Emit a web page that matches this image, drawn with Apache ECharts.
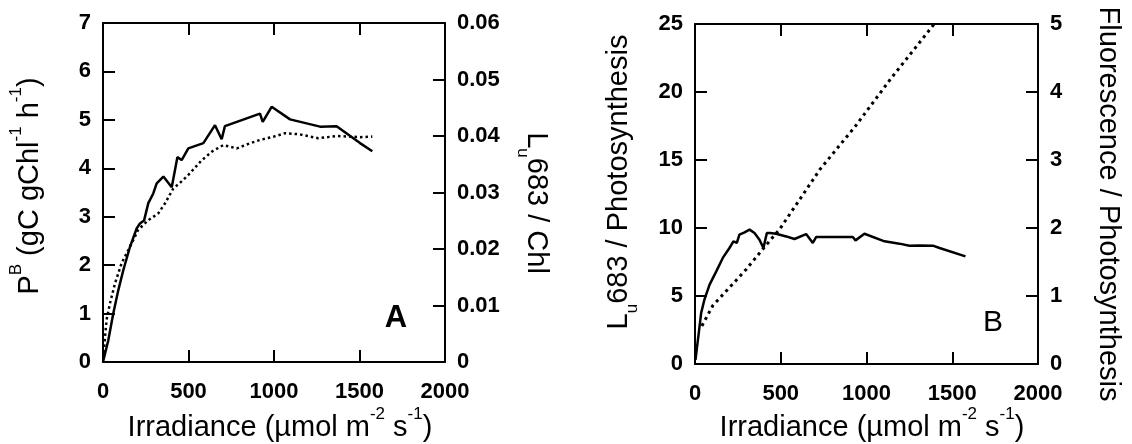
<!DOCTYPE html>
<html>
<head>
<meta charset="utf-8">
<script src="https://cdn.jsdelivr.net/npm/echarts@6/dist/echarts.min.js"></script>
<style>
  html, body { margin: 0; padding: 0; background: #fff; }
  #chart { width: 1132px; height: 444px; }
</style>
</head>
<body>
<div id="chart"></div>
<script>
// Panel A: photosynthesis (solid, left axis) and Lu683/Chl (dotted, right axis)
const pbIrr = [0, 31, 60, 90, 119, 158, 197, 216, 240, 265, 294, 314, 353, 402, 435, 460, 499, 510, 587, 655, 694, 713, 918, 934, 986, 1094, 1269, 1366, 1503, 1575];
const pbVal = [0, 0.45, 1.0, 1.49, 1.9, 2.38, 2.76, 2.86, 2.92, 3.28, 3.48, 3.69, 3.83, 3.61, 4.23, 4.17, 4.41, 4.45, 4.52, 4.89, 4.6, 4.87, 5.13, 4.96, 5.27, 5.01, 4.86, 4.87, 4.52, 4.35];

const luChlIrr = [5, 12, 21, 41, 70, 109, 148, 206, 265, 323, 363, 411, 450, 499, 577, 640, 704, 782, 850, 918, 1000, 1064, 1150, 1259, 1366, 1503, 1575];
const luChlVal = [0.0017, 0.0045, 0.0075, 0.0104, 0.0139, 0.0175, 0.0198, 0.0234, 0.0251, 0.0263, 0.0281, 0.0307, 0.0317, 0.0331, 0.0357, 0.0373, 0.0384, 0.0378, 0.0386, 0.0393, 0.0399, 0.0405, 0.0403, 0.0396, 0.0400, 0.0398, 0.0399];

// Panel B: Lu683 / photosynthesis (solid, left) and fluorescence / photosynthesis (dotted, right)
const luPIrr = [3, 10, 22, 36, 55, 85, 124, 162, 201, 224, 244, 259, 289, 318, 347, 376, 399, 419, 438, 473, 532, 580, 648, 687, 707, 920, 936, 988, 1105, 1192, 1251, 1309, 1387, 1426, 1577];
const luPVal = [0.3, 1.06, 2.29, 3.76, 4.74, 5.84, 6.81, 7.8, 8.53, 9.02, 8.9, 9.51, 9.68, 9.88, 9.63, 9.14, 8.53, 9.63, 9.63, 9.58, 9.38, 9.19, 9.55, 8.9, 9.34, 9.34, 9.09, 9.58, 9.02, 8.85, 8.7, 8.72, 8.7, 8.53, 7.91];

const fluorIrr = [40, 104, 298, 405, 493, 648, 728, 936, 1143, 1395];
const fluorVal = [0.56, 0.86, 1.39, 1.72, 1.98, 2.56, 2.86, 3.5, 4.2, 5.0];

const xTicks = { min: 0, max: 2000, interval: 500 };

function pairs(xs, ys) {
  return xs.map((x, i) => [x, ys[i]]);
}

const FONT = "'Liberation Sans', Arial, Helvetica, sans-serif";
const black = '#000';

function xAxis(grid, pos) {
  return {
    type: 'value', gridIndex: grid, position: pos,
    min: xTicks.min, max: xTicks.max, interval: xTicks.interval,
    axisLine: { show: true, onZero: false, lineStyle: { color: black, width: 2 } },
    axisTick: { show: true, inside: true, length: 12, lineStyle: { color: black, width: 2 } },
    axisLabel: {
      show: pos === 'bottom', margin: 19, color: black,
      fontFamily: FONT, fontSize: 22, fontWeight: 'bold',
      formatter: v => String(v)
    },
    splitLine: { show: false }
  };
}

function yAxis(grid, pos, min, max, interval, fmt) {
  return {
    type: 'value', gridIndex: grid, position: pos,
    min: min, max: max, interval: interval,
    axisLine: { show: true, onZero: false, lineStyle: { color: black, width: 2 } },
    axisTick: { show: true, inside: true, length: 12, lineStyle: { color: black, width: 2 } },
    axisLabel: {
      margin: 12, color: black, fontFamily: FONT, fontSize: 22, fontWeight: 'bold',
      formatter: fmt || (v => String(v))
    },
    splitLine: { show: false }
  };
}

const rich = {
  m: { fontFamily: FONT, fontSize: 29, color: black, lineHeight: 44 },
  sup: { fontFamily: FONT, fontSize: 17, color: black, lineHeight: 31, verticalAlign: 'top' },
  sub: { fontFamily: FONT, fontSize: 17, color: black, lineHeight: 23, verticalAlign: 'bottom' }
};

function label(text, x, y, rotation) {
  return {
    type: 'text', x: x, y: y, rotation: rotation || 0,
    style: { text: text, rich: rich, align: 'center', verticalAlign: 'middle' }
  };
}

const chart = echarts.init(document.getElementById('chart'));

chart.setOption({
  animation: false,
  backgroundColor: '#fff',
  grid: [
    { left: 103, top: 23, width: 342, height: 339 },
    { left: 695, top: 24, width: 343, height: 340 }
  ],
  xAxis: [xAxis(0, 'bottom'), xAxis(0, 'top'), xAxis(1, 'bottom'), xAxis(1, 'top')],
  yAxis: [
    yAxis(0, 'left', 0, 7, 1),
    yAxis(0, 'right', 0, 0.06, 0.01, v => v === 0 ? '0' : v.toFixed(2)),
    yAxis(1, 'left', 0, 25, 5),
    yAxis(1, 'right', 0, 5, 1)
  ],
  series: [
    {
      type: 'line', xAxisIndex: 0, yAxisIndex: 0, data: pairs(pbIrr, pbVal),
      symbol: 'none', lineStyle: { color: black, width: 2.5 }
    },
    {
      type: 'line', xAxisIndex: 0, yAxisIndex: 1, data: pairs(luChlIrr, luChlVal),
      symbol: 'none', lineStyle: { color: black, width: 2.5, type: [2.5, 3] }
    },
    {
      type: 'line', xAxisIndex: 2, yAxisIndex: 2, data: pairs(luPIrr, luPVal),
      symbol: 'none', lineStyle: { color: black, width: 2.5 }
    },
    {
      type: 'line', xAxisIndex: 2, yAxisIndex: 3, data: pairs(fluorIrr, fluorVal),
      symbol: 'none', lineStyle: { color: black, width: 3, type: [3, 4] }
    }
  ],
  graphic: [
    label('{m|P}{sup|B}{m| (gC gChl}{sup|-1}{m| h}{sup|-1}{m|)}', 30, 186, Math.PI / 2),
    label('{m|L}{sub|u}{m|683 / Chl}', 536, 203, -Math.PI / 2),
    label('{m|Irradiance (\u00b5mol m}{sup|-2}{m| s}{sup|-1}{m|)}', 280, 428, 0),
    label('{m|L}{sub|u}{m|683 / Photosynthesis}', 619, 182, Math.PI / 2),
    label('{m|Fluorescence / Photosynthesis}', 1108, 204, -Math.PI / 2),
    label('{m|Irradiance (\u00b5mol m}{sup|-2}{m| s}{sup|-1}{m|)}', 872, 428, 0),
    {
      type: 'text', x: 396, y: 318,
      style: { text: 'A', fontFamily: FONT, fontSize: 31, fontWeight: 'bold', fill: black, align: 'center', verticalAlign: 'middle' }
    },
    {
      type: 'text', x: 993, y: 323,
      style: { text: 'B', fontFamily: FONT, fontSize: 30, fill: black, align: 'center', verticalAlign: 'middle' }
    }
  ]
});
</script>
</body>
</html>
